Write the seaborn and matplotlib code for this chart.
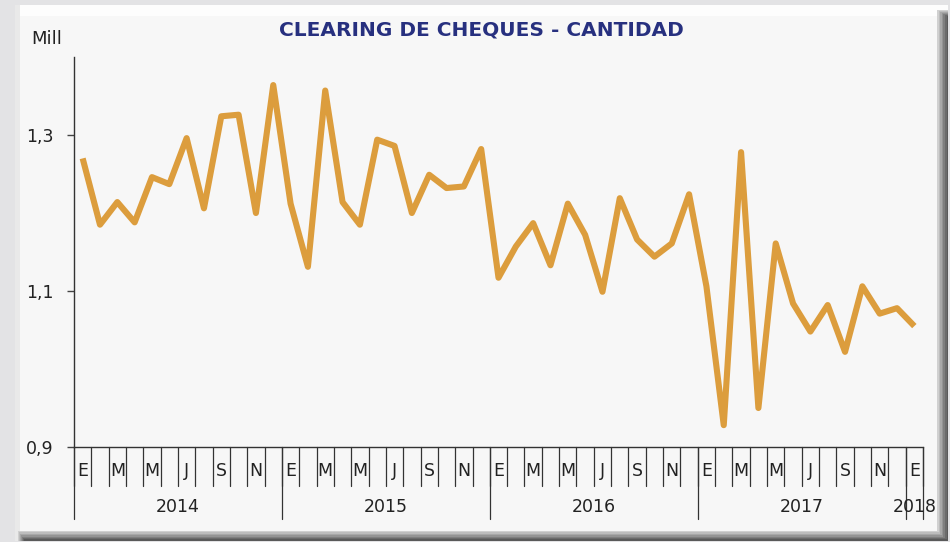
import numpy as np
import pandas as pd
import matplotlib
matplotlib.use("Agg")
import matplotlib.pyplot as plt
import seaborn as sns
from matplotlib.patches import Rectangle

# ---------------- data ----------------
title = "CLEARING DE CHEQUES - CANTIDAD"
unit_label = "Mill"
values = [1.270, 1.185, 1.214, 1.188, 1.246, 1.237, 1.296, 1.206, 1.324, 1.326, 1.200, 1.364,
          1.212, 1.131, 1.357, 1.214, 1.185, 1.294, 1.286, 1.200, 1.249, 1.232, 1.234, 1.282,
          1.117, 1.157, 1.187, 1.133, 1.212, 1.172, 1.099, 1.219, 1.166, 1.144, 1.161, 1.224,
          1.106, 0.928, 1.278, 0.950, 1.161, 1.084, 1.048, 1.082, 1.022, 1.106, 1.071, 1.078,
          1.055]
month_labels = ["E", "", "M", "", "M", "", "J", "", "S", "", "N", ""]
years = ["2014", "2015", "2016", "2017", "2018"]
y_ticks = [0.9, 1.1, 1.3]
y_tick_labels = ["0,9", "1,1", "1,3"]

n = len(values)
df = pd.DataFrame({"idx": np.arange(n), "value": values})

# ---------------- figure ----------------
W, H = 950, 542
fig = plt.figure(figsize=(W / 100, H / 100), dpi=100)
fig.patch.set_facecolor("#e3e3e5")

def fr(x0, y0, x1, y1, color, z=0):
    fig.patches.append(Rectangle((x0 / W, 1 - y1 / H), (x1 - x0) / W, (y1 - y0) / H,
                                 transform=fig.transFigure, facecolor=color,
                                 edgecolor="none", zorder=z))

# panel with bevel
fr(15, 5, 948, 541, "#f7f7f7", 0)
fr(15, 5, 948, 16, "#fdfdfd", 0.1)
fr(15, 5, 20, 541, "#e9e9e9", 0.1)
for k, c in enumerate(["#d0d0d0", "#bdbdbd", "#a8a8a8", "#949494", "#7f7f7f", "#6b6b6b", "#5a5a5a"]):
    fr(937 + k * 1.6, 10 + k, 948, 541, c, 0.2 + k * 0.01)
    fr(18 + k, 531 + k * 1.4, 948, 541, c, 0.2 + k * 0.01)

sns.set_style("white")
plt.rcParams["font.family"] = ["DejaVu Sans"]

ax = fig.add_axes([74 / W, 1 - 447 / H, (923 - 74) / W, (447 - 57) / H])
ax.set_facecolor("none")
ax.set_zorder(5)

sns.lineplot(data=df, x="idx", y="value", ax=ax, color="#dc9d3d", linewidth=4.4,
             solid_joinstyle="round", solid_capstyle="butt")

ax.set_xlim(-0.5, n - 0.5)
ax.set_ylim(0.9, 1.4)
ax.set_xlabel("")
ax.set_ylabel("")

for s in ["top", "right"]:
    ax.spines[s].set_visible(False)
for s in ["left", "bottom"]:
    ax.spines[s].set_color("#333333")
    ax.spines[s].set_linewidth(1.0)

ax.set_yticks(y_ticks)
ax.set_yticklabels(y_tick_labels)
ax.tick_params(axis="y", direction="out", length=5, width=1, color="#444444",
               pad=10, labelsize=12.5, labelcolor="#222222", left=True)
ax.set_xticks([])

# month separators and labels
xt = ax.get_xaxis_transform()
for i in range(n + 1):
    ax.plot([i - 0.5, i - 0.5], [0, -0.10], transform=xt, color="#333333",
            linewidth=0.9, clip_on=False)
for i in range(n):
    lab = month_labels[i % 12]
    if lab:
        ax.text(i, -0.062, lab, transform=xt, ha="center", va="center",
                fontsize=12.5, color="#222222")

# year separators and labels
year_edges = [-0.5, 11.5, 23.5, 35.5, 47.5, 48.5]
for e in year_edges:
    ax.plot([e, e], [0, -0.185], transform=xt, color="#333333",
            linewidth=0.9, clip_on=False)
for k, y in enumerate(years):
    start = k * 12
    end = min(start + 11, n - 1)
    ax.text((start + end) / 2, -0.153, y, transform=xt, ha="center", va="center",
            fontsize=12.5, color="#222222")

fig.text(47 / W, 1 - 39 / H, unit_label, ha="center", va="center", fontsize=13,
         color="#222222")
fig.text(481 / W, 1 - 30 / H, title, ha="center", va="center", fontsize=14.5,
         fontweight="bold", color="#27307f")

fig.savefig("out.png", dpi=100, facecolor=fig.get_facecolor())
